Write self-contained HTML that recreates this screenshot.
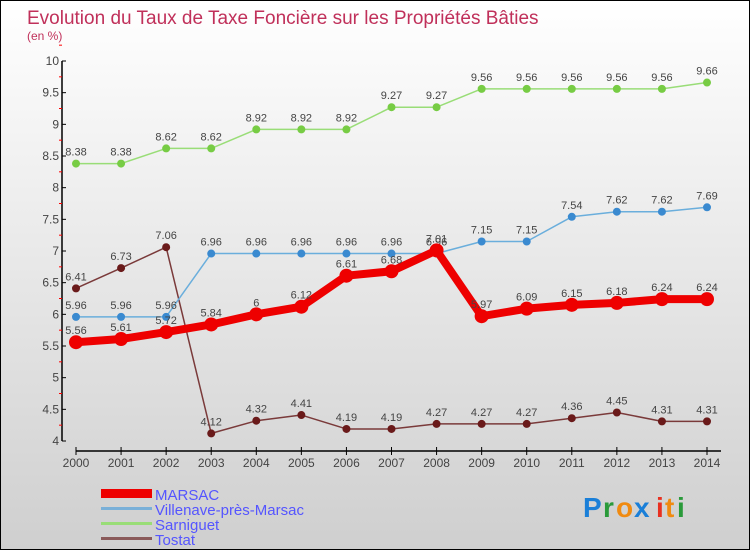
<!DOCTYPE html>
<html><head><meta charset="utf-8">
<style>
html,body{margin:0;padding:0}
body{width:750px;height:550px;overflow:hidden;font-family:"Liberation Sans","DejaVu Sans",sans-serif}
#wrap{position:absolute;left:0;top:0;width:748px;height:548px;border:1px solid #000;background:linear-gradient(#ffffff,#cfcfcf)}
</style></head>
<body>
<div id="wrap">
<svg id="chart" width="748" height="548" style="position:absolute;left:0;top:0">
<text x="26" y="23" font-size="19" fill="#c0305a">Evolution du Taux de Taxe Foncière sur les Propriétés Bâties</text>
<text x="26" y="39" font-size="12" fill="#c0305a">(en %)</text>
<g id="axes"></g>
<g id="series"></g>
<g>
<rect x="100" y="488" width="51" height="9" fill="#ee0000"/>
<text x="154" y="499" font-size="15" fill="#5555ff">MARSAC</text>
<rect x="100" y="506" width="51" height="3" fill="#7ab0d8"/>
<text x="154" y="514" font-size="15" fill="#5555ff">Villenave-près-Marsac</text>
<rect x="100" y="521" width="51" height="3" fill="#99dd77"/>
<text x="154" y="529" font-size="15" fill="#5555ff">Sarniguet</text>
<rect x="100" y="536" width="51" height="3" fill="#8a5a5a"/>
<text x="154" y="544" font-size="15" fill="#5555ff">Tostat</text>
</g>
<g font-size="28" font-weight="bold">
<text x="582" y="516" fill="#1a7fd8">P</text><text x="602" y="516" fill="#2a9a3a">r</text><text x="615" y="516" fill="#f08a10">o</text><text x="633" y="516" fill="#1a7fd8">x</text><text x="655" y="516" fill="#e83020">i</text><text x="664" y="516" fill="#f08a10">t</text><text x="676" y="516" fill="#2a9a3a">i</text>
</g>
</svg>
</div>
<script>
const years=[2000,2001,2002,2003,2004,2005,2006,2007,2008,2009,2010,2011,2012,2013,2014];
const marsac=[5.56,5.61,5.72,5.84,6,6.12,6.61,6.68,7.01,5.97,6.09,6.15,6.18,6.24,6.24];
const villenave=[5.96,5.96,5.96,6.96,6.96,6.96,6.96,6.96,6.96,7.15,7.15,7.54,7.62,7.62,7.69];
const sarniguet=[8.38,8.38,8.62,8.62,8.92,8.92,8.92,9.27,9.27,9.56,9.56,9.56,9.56,9.56,9.66];
const tostat=[6.41,6.73,7.06,4.12,4.32,4.41,4.19,4.19,4.27,4.27,4.27,4.36,4.45,4.31,4.31];
const yTicks=[4,4.5,5,5.5,6,6.5,7,7.5,8,8.5,9,9.5,10];
const NS='http://www.w3.org/2000/svg';
function x(i){return 75+i*(706-75)/(years.length-1);}
function y(v){return 440-(v-4)*(380/6);}
function mk(tag,attrs,parent){const e=document.createElementNS(NS,tag);for(const k in attrs)e.setAttribute(k,attrs[k]);parent.appendChild(e);return e;}
const axes=document.getElementById('axes');
const ya=mk('line',{x1:61,y1:60,x2:61,y2:440,stroke:'#000','stroke-width':1.5},axes);


yTicks.forEach(t=>{
 const l=mk('line',{x1:61,y1:y(t),x2:65,y2:y(t),stroke:'#000'},axes);
 
 
 const m=mk('line',{x1:58,y1:y(t+0.25),x2:61,y2:y(t+0.25),stroke:'#f00'},axes);
 
 
 const tx=mk('text',{x:58,y:y(t)+4,'font-size':12,fill:'#444','text-anchor':'end'},axes);
 tx.textContent=String(t);
 
 
});
const xa=mk('line',{x1:75,y1:450,x2:720,y2:450,stroke:'#000','stroke-width':1.5},axes);


years.forEach((yr,i)=>{
 const l=mk('line',{x1:x(i),y1:446,x2:x(i),y2:454,stroke:'#000'},axes);
 
 
 const tx=mk('text',{x:x(i),y:466,'font-size':12,fill:'#444','text-anchor':'middle'},axes);
 tx.textContent=String(yr);
 
 
});
const sg=document.getElementById('series');
function draw(name,vals,color,lw,r,ptColor){
 const g=mk('g',{},sg);
 
 
 const p=mk('polyline',{points:vals.map((v,i)=>x(i)+','+y(v)).join(' '),fill:'none',stroke:color,'stroke-width':lw,'stroke-linejoin':'round'},g);
 
 
 vals.forEach((v,i)=>{
  const c=mk('circle',{cx:x(i),cy:y(v),r:r,fill:ptColor},g);
  
  
  const t=mk('text',{x:x(i),y:y(v)-8,'font-size':11,fill:'#444','text-anchor':'middle'},g);
  t.textContent=String(v);
  
  
 });
}
draw('sarniguet',sarniguet,'#99dd77',1.5,4,'#77cc44');
draw('tostat',tostat,'#7a3a3a',1.5,4,'#6a1a1a');
draw('villenave',villenave,'#6aaedc',1.5,4,'#3a8ad0');
draw('marsac',marsac,'#ee0000',8,7,'#ee0000');
</script>
</body></html>
